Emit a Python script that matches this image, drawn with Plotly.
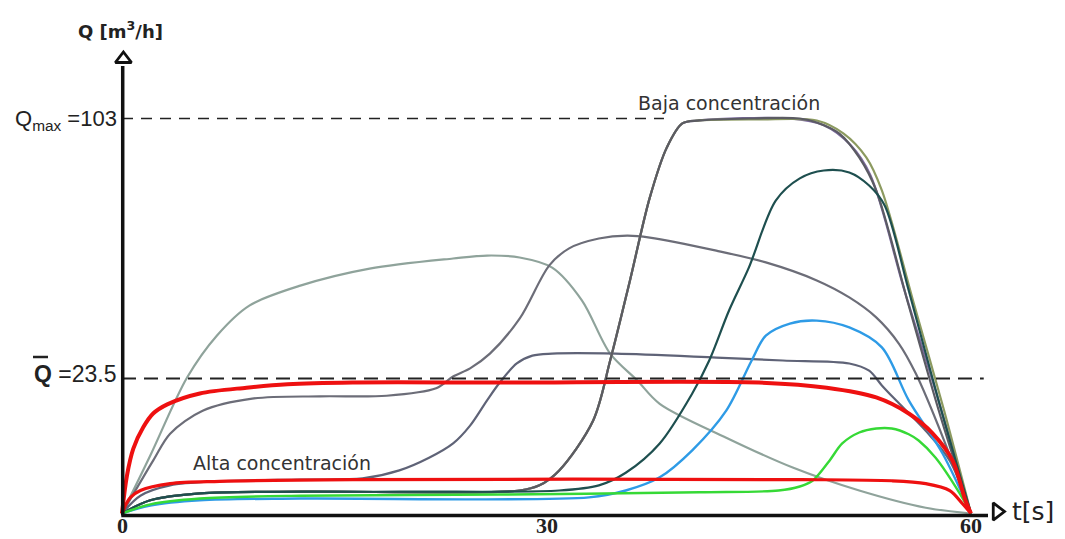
import numpy as np
import plotly.graph_objects as go

W, H = 1065, 539

# ---- flow scale: piecewise (stretched below the mean flow) ----
Q_MEAN = 23.5
Q_MAX = 103
Q_KNOTS = [0, Q_MEAN, Q_MAX]
H_KNOTS = [0, 135, 395]          # drawing height above the time axis


def hq(q):
    return np.interp(np.asarray(q, dtype=float), Q_KNOTS, H_KNOTS)


# ---- time ticks ----
T_TICKS = [0, 30, 60]

# ---- flow curves Q(t) [m3/h], t in s ----
A_t = [0, 2.0, 4.6, 6.7, 9.0, 12.6, 17.5, 23.4, 25.8, 28.1, 30.4, 32.5, 34.5, 36.4, 38.0, 42.7, 47.4, 52.1, 56.8, 60]
A_q = [0, 10.1, 23.8, 36.6, 45.8, 51.9, 57.1, 60.2, 61.1, 60.5, 57.4, 47.4, 31.1, 23.2, 19.1, 13.2, 8.0, 4.0, 1.0, 0]

B_t = [0, 2.2, 3.4, 5.7, 9.2, 14.0, 18.7, 22.2, 23.4, 24.6, 26.0, 28.1, 30.2, 31.6, 33.7, 35.7, 37.3, 42.0, 45.5, 49.1, 51.4, 53.3, 54.9, 56.1, 58.1, 60]
B_q = [0, 9.2, 13.9, 17.9, 20.0, 20.4, 20.5, 21.8, 24.1, 26.6, 31.1, 41.8, 58.1, 63.3, 66.3, 67.2, 66.6, 62.6, 59.0, 53.5, 48.3, 42.2, 34.2, 25.0, 12.7, 0]

C_t = [0, 1.3, 3.4, 6.9, 12.6, 17.0, 19.6, 21.7, 23.4, 24.6, 25.8, 26.7, 27.9, 29.0, 30.4, 34.9, 42.0, 46.7, 51.4, 52.8, 53.7, 54.7, 56.8, 58.5, 60]
C_q = [0, 3.1, 4.9, 5.6, 5.9, 6.1, 7.5, 9.7, 12.2, 15.3, 19.7, 22.8, 28.1, 30.5, 31.1, 31.1, 29.9, 29.0, 28.1, 25.9, 22.3, 19.7, 14.4, 9.2, 0]

D_t = [0, 2.0, 5.5, 12.6, 28.1, 29.5, 30.9, 33.3, 34.5, 35.9, 37.3, 38.5, 39.6, 40.8, 44.3, 47.9, 49.1, 50.7, 52.1, 53.3, 55.6, 57.7, 60]
D_q = [0, 2.3, 3.5, 3.8, 4.0, 4.9, 7.5, 16.2, 29.0, 53.5, 78.8, 94.1, 101.5, 102.4, 103, 103, 101.8, 98.4, 91.1, 81.0, 45.8, 18.1, 0]

H_t = [0, 2.0, 5.5, 12.6, 28.1, 29.5, 30.9, 33.3, 34.5, 35.9, 37.3, 38.5, 39.6, 40.8, 45.0, 49.1, 51.0, 52.6, 53.7, 56.0, 58.1, 60]
H_q = [0, 2.3, 3.5, 3.8, 4.0, 4.9, 7.5, 16.2, 29.0, 53.5, 78.8, 94.1, 101.5, 102.4, 102.7, 102.4, 98.4, 91.1, 81.0, 45.8, 17.9, 0]

I_t = [0, 2.0, 5.5, 12.6, 28.1, 29.5, 30.9, 33.3, 34.5, 35.9, 37.3, 38.5, 39.6, 40.8, 47.2, 49.6, 51.5, 52.9, 55.3, 57.7, 60]
I_q = [0, 2.3, 3.5, 3.8, 4.0, 4.9, 7.5, 16.2, 29.0, 53.5, 78.8, 94.1, 101.5, 102.4, 103, 100.9, 94.8, 85.6, 50.4, 19.7, 0]

E_t = [0, 2.0, 5.5, 19.6, 30.9, 33.7, 35.6, 38.0, 40.3, 41.5, 42.9, 44.3, 46.2, 47.9, 49.6, 51.4, 52.8, 53.9, 55.6, 57.7, 60]
E_q = [0, 2.3, 3.5, 3.8, 4.0, 4.9, 7.1, 12.2, 20.9, 29.0, 44.3, 57.4, 77.9, 84.7, 87.1, 86.5, 82.5, 76.4, 50.4, 19.7, 0]

F_t = [0, 2.0, 5.5, 12.6, 33.0, 35.6, 38.0, 40.3, 42.7, 44.5, 45.5, 47.2, 49.1, 51.4, 53.7, 55.6, 58.0, 60]
F_q = [0, 1.4, 2.3, 2.6, 2.8, 4.0, 6.3, 11.0, 17.9, 29.0, 36.6, 40.3, 41.2, 39.1, 33.0, 19.7, 10.4, 0]

G_t = [0, 2.0, 5.5, 12.6, 26.7, 40.8, 46.4, 47.9, 48.8, 50.0, 50.9, 52.1, 53.3, 54.4, 55.6, 56.3, 57.5, 59.2, 60]
G_q = [0, 1.6, 2.6, 3.1, 3.3, 3.7, 4.0, 4.7, 5.7, 9.2, 12.2, 14.1, 14.8, 14.8, 13.8, 12.7, 9.7, 3.5, 0]

R_low_t = [0, 0.3, 0.6, 1.3, 3.4, 6.9, 16.3, 48.0, 54.4, 56.8, 58.5, 59.4, 60]
R_low_q = [0, 1.7, 2.8, 4.0, 5.2, 5.6, 5.9, 5.9, 5.7, 5.2, 4.0, 1.7, 0]

R_up_t = [0, 0.35, 0.8, 1.5, 2.2, 3.2, 5.5, 8.8, 11.7, 16.3, 26.7, 45.0, 49.8, 53.3, 55.6, 57.3, 58.7, 59.6, 60]
R_up_q = [0, 6.6, 11.3, 15.0, 17.4, 19.0, 20.9, 21.9, 22.5, 22.8, 22.8, 22.8, 21.9, 20.2, 17.4, 13.9, 9.2, 2.3, 0]

# (t, q, colour, width) in drawing order
CURVES = [
    (A_t, A_q, "#8fa39b", 2.2),
    (B_t, B_q, "#6c6d78", 2.2),
    (C_t, C_q, "#5f6377", 2.2),
    (I_t, I_q, "#7d6ba0", 2.2),
    (H_t, H_q, "#8c9a60", 2.2),
    (D_t, D_q, "#5b5b63", 2.2),
    (E_t, E_q, "#1e4f4f", 2.2),
    (F_t, F_q, "#2e9be6", 2.4),
    (G_t, G_q, "#36d936", 2.4),
    (R_low_t, R_low_q, "#ee1010", 3.2),
    (R_up_t, R_up_q, "#ee1010", 4.0),
]

# ---- placement: px per second, origin in page pixels ----
PX = 14.15
X0, Y0 = 122, 513.5

fig = go.Figure()

for t, q, col, lw in CURVES:
    fig.add_trace(go.Scatter(
        x=t, y=hq(q), mode="lines",
        line=dict(color=col, width=lw, shape="spline", smoothing=0.9),
        hoverinfo="skip"))

# reference levels
fig.add_trace(go.Scatter(
    x=[0, 38.3], y=hq([Q_MAX, Q_MAX]), mode="lines",
    line=dict(color="#222222", width=1.6, dash="11px,8px"), hoverinfo="skip"))
fig.add_trace(go.Scatter(
    x=[0, 60.9], y=hq([Q_MEAN, Q_MEAN]), mode="lines",
    line=dict(color="#222222", width=2.2, dash="14px,8px"), hoverinfo="skip"))

# axes with open arrowheads
AX_Y = -2
fig.add_trace(go.Scatter(
    x=[0.05, 0.05], y=[AX_Y, Y0 - 66], mode="lines",
    line=dict(color="#111111", width=3.5), hoverinfo="skip"))
fig.add_trace(go.Scatter(
    x=[-0.05, (988 - X0) / PX], y=[AX_Y, AX_Y], mode="lines",
    line=dict(color="#111111", width=3.5), hoverinfo="skip"))
fig.add_trace(go.Scatter(
    x=[0.1], y=[Y0 - 59], mode="markers",
    marker=dict(symbol="triangle-up-open", size=14, color="#111111",
                line=dict(width=2.8, color="#111111")), hoverinfo="skip"))
fig.add_trace(go.Scatter(
    x=[(997 - X0) / PX], y=[Y0 - 511.5], mode="markers",
    marker=dict(symbol="triangle-right-open", size=15, color="#111111",
                line=dict(width=2.8, color="#111111")), hoverinfo="skip"))


def px_x(px):
    return px / W


def px_y(py):
    return 1 - py / H


SANS = "Liberation Sans, Arial, sans-serif"
WIDE = "DejaVu Sans, sans-serif"
SERIF = "Liberation Serif, Times New Roman, serif"
annotations = []


def label(text, x, y, size, family, xanchor="center", xref="paper", yanchor="middle",
          color="#222222", weight="normal"):
    annotations.append(dict(
        text=text, x=x, y=y, xref=xref, yref="paper", xanchor=xanchor, yanchor=yanchor,
        showarrow=False, borderpad=0,
        font=dict(size=size, family=family, color=color, weight=weight)))


label("Q [m<sup>3</sup>/h]", px_x(120), px_y(30), 18, WIDE, weight="bold")
label("Q<sub>max</sub> =103", px_x(118), px_y(120), 22, SANS, xanchor="right")
label("<b>Q</b> =23.5", px_x(117), px_y(374), 23, SANS, xanchor="right")
label("Baja concentración", px_x(729), px_y(103), 19, WIDE, color="#333333")
label("Alta concentración", px_x(282), px_y(463), 19, WIDE, color="#333333")
label("t[s]", px_x(1011), px_y(511), 25, WIDE, xanchor="left")
for tv in T_TICKS:
    label(str(tv), tv, 0.0, 22, SERIF, xref="x", yanchor="bottom", weight="bold")

fig.update_layout(
    width=W, height=H,
    margin=dict(l=0, r=0, t=0, b=0),
    paper_bgcolor="white", plot_bgcolor="white",
    showlegend=False,
    xaxis=dict(range=[-X0 / PX, (W - X0) / PX], visible=False, fixedrange=True),
    yaxis=dict(range=[Y0 - H, Y0], visible=False, fixedrange=True),
    annotations=annotations,
    shapes=[dict(type="line", xref="paper", yref="paper",
                 x0=px_x(33), x1=px_x(48), y0=px_y(357), y1=px_y(357),
                 line=dict(color="#222222", width=2.5))],
)

fig.write_html("out.html")
